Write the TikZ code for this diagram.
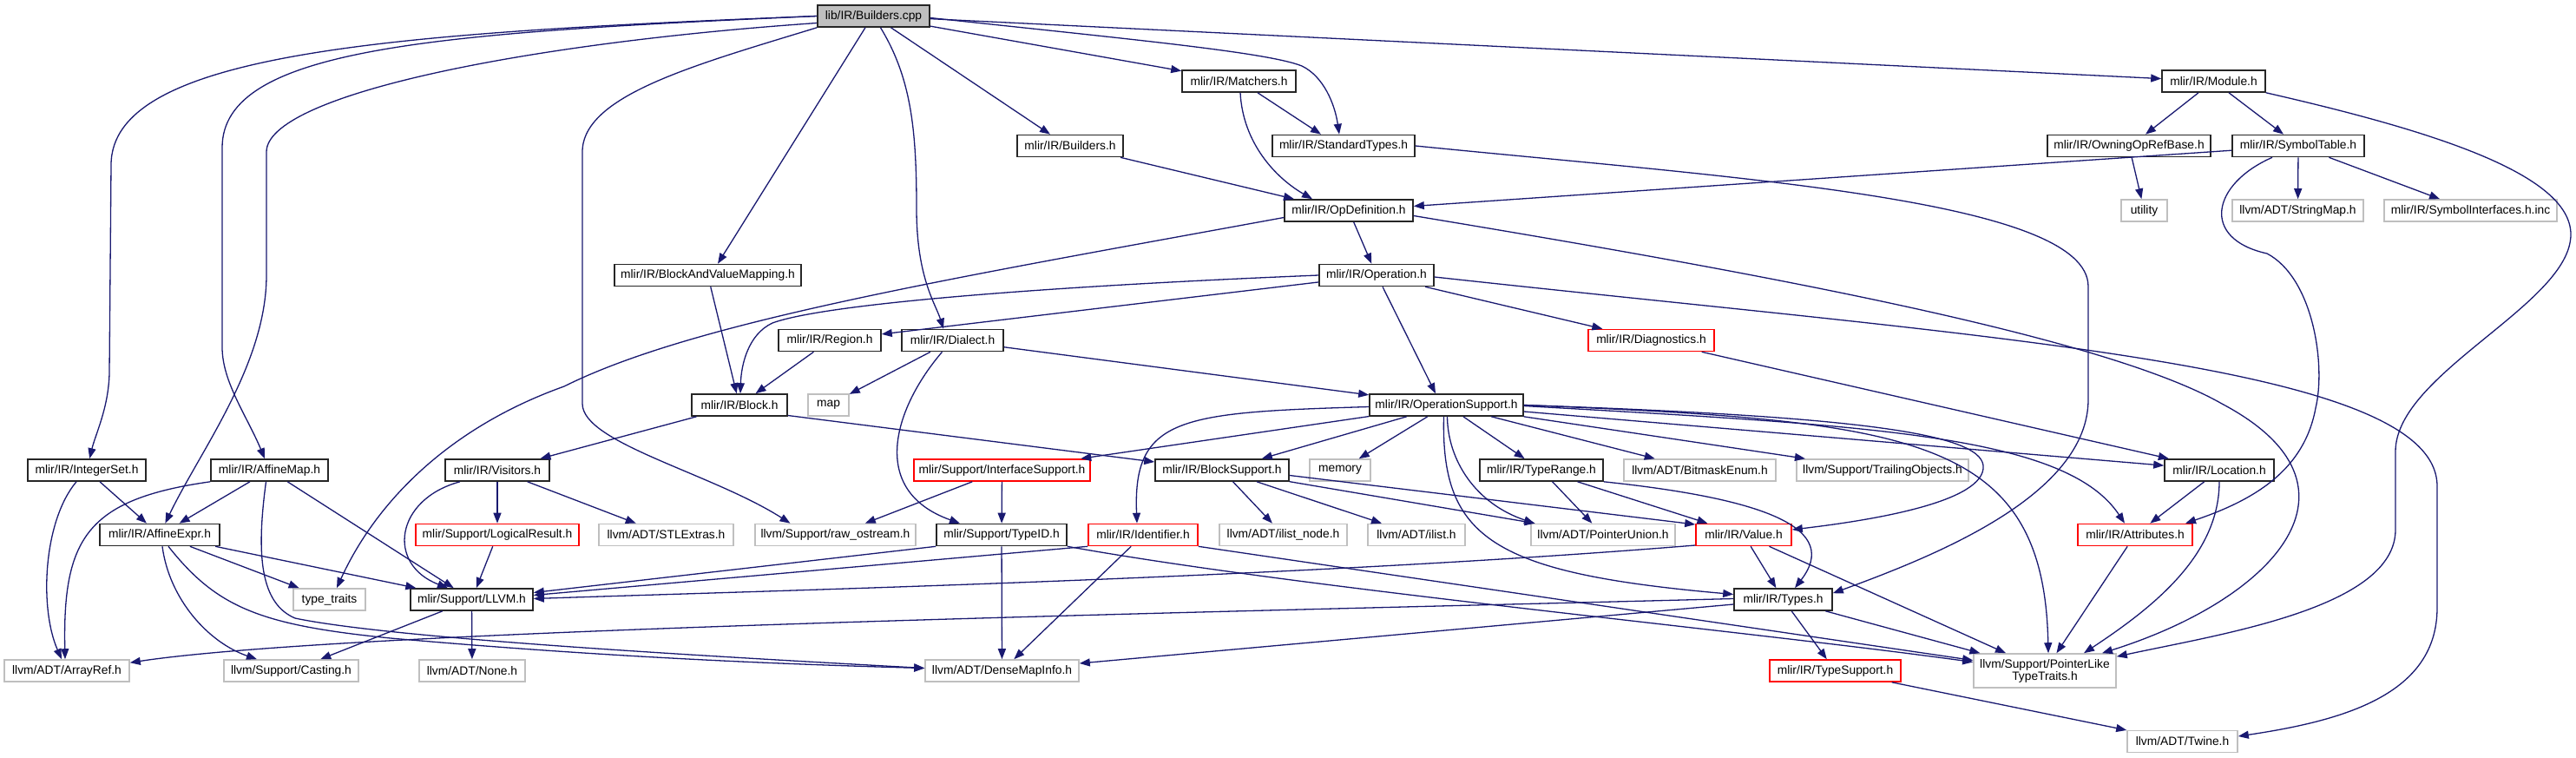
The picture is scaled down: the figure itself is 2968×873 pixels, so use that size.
\documentclass[tikz,border=0pt]{standalone}
\usepackage{fontspec}
\setmainfont{Liberation Sans}
\usetikzlibrary{arrows.meta}
\definecolor{edgeblue}{HTML}{191970}
\definecolor{extgray}{HTML}{BFBFBF}
\definecolor{truncred}{HTML}{FF0000}
\tikzset{
 nd/.style={rectangle, draw=black!85, line width=0.8pt, inner sep=0pt, minimum height=12.5pt, font=\fontsize{6.9}{8}\selectfont, text=black},
 ext/.style={nd, draw=extgray},
 trunc/.style={nd, draw=truncred},
 wd/.style={minimum width=#1*0.5pt},
 dep/.style={draw=edgeblue, line width=0.65pt, -{Triangle[length=6pt,width=4.5pt]}},
}
\begin{document}
\begin{tikzpicture}[x=0.5pt,y=-0.5pt]
\useasboundingbox (0,0) rectangle (2968,873);
% nodes
\node[nd,fill=extgray,wd=129] (cpp) at (1006.5,18.5) {lib/IR/Builders.cpp};
\node[nd,wd=131] (matchers) at (1427.5,93.5) {mlir/IR/Matchers.h};
\node[nd,wd=119] (module) at (2550.5,93.5) {mlir/IR/Module.h};
\node[nd,wd=122] (buildersh) at (1233,168) {mlir/IR/Builders.h};
\node[nd,wd=164] (stdtypes) at (1548,168) {mlir/IR/StandardTypes.h};
\node[nd,wd=188] (owning) at (2453,168) {mlir/IR/OwningOpRefBase.h};
\node[nd,wd=152] (symtab) at (2648,168) {mlir/IR/SymbolTable.h};
\node[nd,wd=148] (opdef) at (1554,242.5) {mlir/IR/OpDefinition.h};
\node[ext,wd=53] (utility) at (2470.5,242.5) {utility};
\node[ext,wd=151] (stringmap) at (2647.5,242.5) {llvm/ADT/StringMap.h};
\node[ext,wd=199] (symif) at (2846.5,242.5) {mlir/IR/SymbolInterfaces.h.inc};
\node[nd,wd=215] (bavm) at (815.5,317) {mlir/IR/BlockAndValueMapping.h};
\node[nd,wd=132] (operation) at (1586,317) {mlir/IR/Operation.h};
\node[nd,wd=118] (region) at (956,392) {mlir/IR/Region.h};
\node[nd,wd=117] (dialect) at (1097.5,392) {mlir/IR/Dialect.h};
\node[trunc,wd=145] (diag) at (1902.5,392) {mlir/IR/Diagnostics.h};
\node[nd,wd=110] (block) at (852,466.5) {mlir/IR/Block.h};
\node[ext,wd=47] (map) at (954.5,466.5) {map};
\node[nd,wd=177] (opsupport) at (1666.5,466.5) {mlir/IR/OperationSupport.h};
\node[nd,wd=136] (intset) at (100,541.5) {mlir/IR/IntegerSet.h};
\node[nd,wd=135] (affmap) at (310.5,541.5) {mlir/IR/AffineMap.h};
\node[nd,wd=120] (visitors) at (573,541.5) {mlir/IR/Visitors.h};
\node[trunc,wd=203] (ifsupport) at (1154.5,541.5) {mlir/Support/InterfaceSupport.h};
\node[nd,wd=154] (blocksupport) at (1408,541.5) {mlir/IR/BlockSupport.h};
\node[ext,wd=70] (memory) at (1544,541.5) {memory};
\node[nd,wd=142] (typerange) at (1776,541.5) {mlir/IR/TypeRange.h};
\node[ext,wd=175] (bitmask) at (1958.5,541.5) {llvm/ADT/BitmaskEnum.h};
\node[ext,wd=198] (trailing) at (2169,541.5) {llvm/Support/TrailingObjects.h};
\node[nd,wd=126] (location) at (2557,541.5) {mlir/IR/Location.h};
\node[nd,wd=138] (affexpr) at (184,616) {mlir/IR/AffineExpr.h};
\node[trunc,wd=188] (logical) at (573,616) {mlir/Support/LogicalResult.h};
\node[ext,wd=155] (stlextras) at (767.5,616) {llvm/ADT/STLExtras.h};
\node[ext,wd=185] (rawostream) at (962.5,616) {llvm/Support/raw\_ostream.h};
\node[nd,wd=150] (typeid) at (1154,616) {mlir/Support/TypeID.h};
\node[trunc,wd=126] (identifier) at (1317,616) {mlir/IR/Identifier.h};
\node[ext,wd=147] (ilistnode) at (1478.5,616) {llvm/ADT/ilist\_node.h};
\node[ext,wd=112] (ilist) at (1632,616) {llvm/ADT/ilist.h};
\node[ext,wd=166] (ptrunion) at (1847,616) {llvm/ADT/PointerUnion.h};
\node[trunc,wd=110] (value) at (2009,616) {mlir/IR/Value.h};
\node[trunc,wd=132] (attributes) at (2460,616) {mlir/IR/Attributes.h};
\node[ext,wd=83] (typetraits) at (379.5,690.5) {type\_traits};
\node[nd,wd=141] (llvmh) at (543.5,690.5) {mlir/Support/LLVM.h};
\node[nd,wd=113] (types) at (2054.5,690.5) {mlir/IR/Types.h};
\node[ext,wd=144] (arrayref) at (77,772.5) {llvm/ADT/ArrayRef.h};
\node[ext,wd=155] (casting) at (335.5,772.5) {llvm/Support/Casting.h};
\node[ext,wd=122] (none) at (544,772.5) {llvm/ADT/None.h};
\node[ext,wd=177] (densemap) at (1154.5,772.5) {llvm/ADT/DenseMapInfo.h};
\node[trunc,wd=151] (typesupport) at (2114.5,772.5) {mlir/IR/TypeSupport.h};
\node[ext,wd=164,minimum height=19.5pt,align=center,font=\fontsize{6.9}{7}\selectfont] (ptrlike) at (2356,772.5) {llvm/Support/PointerLike\\TypeTraits.h};
\node[ext,wd=127] (twine) at (2514.5,854) {llvm/ADT/Twine.h};
% edges from Builders.cpp
\draw[dep] (cpp.west) .. controls (450,38) and (128,60) .. (128,190) -- (126,430) .. controls (125,470) and (110,500) .. (intset);
\draw[dep] (cpp.west) .. controls (500,38) and (256,55) .. (256,170) -- (256,400) .. controls (256,440) and (285,480) .. (affmap);
\draw[dep] ([yshift=-4pt]cpp.west) .. controls (600,50) and (307,110) .. (307,175) -- (307,317) .. controls (307,420) and (230,520) .. (affexpr);
\draw[dep] (cpp.south west) .. controls (800,75) and (671,110) .. (671,175) -- (671,465) .. controls (671,510) and (820,545) .. ([xshift=-26pt]rawostream.north);
\draw[dep] ([xshift=-4.75pt]cpp.south) -- ([xshift=5.75pt]bavm.north);
\draw[dep] ([xshift=4pt]cpp.south) .. controls (1050,90) and (1056,150) .. (1056,240) .. controls (1056,320) and (1078,350) .. ([xshift=-5.25pt]dialect.north);
\draw[dep] ([xshift=10pt]cpp.south) -- ([xshift=-11.5pt]buildersh.north);
\draw[dep] (cpp) -- (matchers);
\draw[dep] ([yshift=-1pt]cpp.east) .. controls (1300,45) and (1460,60) .. (1500,76) .. controls (1525,88) and (1538,120) .. ([xshift=-2.5pt]stdtypes.north);
\draw[dep] (cpp) -- (module);
% Matchers, Builders.h, StandardTypes
\draw[dep] ([xshift=0.75pt]matchers.south) .. controls (1432,165) and (1470,205) .. ([xshift=-21pt]opdef.north);
\draw[dep] ([xshift=10.75pt]matchers.south) -- ([xshift=-13pt]stdtypes.north);
\draw[dep] ([xshift=29pt]buildersh.south) -- ([xshift=-31.5pt]opdef.north);
\draw[dep] (stdtypes.east) .. controls (2000,205) and (2406,230) .. (2406,330) -- (2406,460) .. controls (2406,570) and (2230,640) .. ([yshift=-3pt]types.north east);
% Module
\draw[dep] ([xshift=-8.75pt]module.south) -- ([xshift=9.5pt]owning.north);
\draw[dep] ([xshift=8.75pt]module.south) -- ([xshift=-8.5pt]symtab.north);
\draw[dep] (module.south east) .. controls (2800,150) and (2962,200) .. (2962,270) .. controls (2962,350) and (2760,430) .. (2760,520) -- (2760,610) .. controls (2760,700) and (2560,730) .. ([yshift=-2pt]ptrlike.north east);
% SymbolTable, OwningOpRefBase
\draw[dep] (symtab) -- (opdef);
\draw[dep] (symtab) -- (stringmap);
\draw[dep] (symtab) -- (symif);
\draw[dep] ([xshift=-15pt]symtab.south) .. controls (2548,212) and (2535,275) .. (2612,292) .. controls (2665,320) and (2680,420) .. (2668,470) .. controls (2655,540) and (2600,575) .. ([xshift=29pt]attributes.north);
\draw[dep] (owning) -- (utility);
% OpDefinition
\draw[dep] (opdef) -- (operation);
\draw[dep] ([yshift=-4pt]opdef.west) .. controls (1100,320) and (800,370) .. (650,445) .. controls (510,495) and (430,585) .. ([xshift=4.25pt]typetraits.north);
\draw[dep] ([yshift=-3pt]opdef.east) .. controls (2000,310) and (2420,385) .. (2560,465) .. controls (2740,560) and (2620,690) .. ([xshift=33pt]ptrlike.north);
% Operation
\draw[dep] (operation) -- (region);
\draw[dep] (operation.west) .. controls (1200,330) and (950,350) .. (890,372) .. controls (862,385) and (854,420) .. ([xshift=0.5pt]block.north);
\draw[dep] ([xshift=3.5pt]operation.south) -- ([xshift=-6.25pt]opsupport.north);
\draw[dep] (operation) -- (diag);
\draw[dep] ([yshift=-1pt]operation.east) .. controls (2300,390) and (2808,420) .. (2808,560) -- (2808,700) .. controls (2808,800) and (2700,830) .. ([yshift=3pt]twine.east);
% Diagnostics, Region, BlockAndValueMapping, Dialect
\draw[dep] (diag) -- (location);
\draw[dep] (region) -- (block);
\draw[dep] (bavm) -- (block);
\draw[dep] (dialect) -- (map);
\draw[dep] ([xshift=-6pt]dialect.south) .. controls (1030,470) and (1000,565) .. ([xshift=-24pt]typeid.north);
\draw[dep] (dialect) -- (opsupport);
% Block
\draw[dep] (block) -- (visitors);
\draw[dep] ([yshift=-6pt]block.east) -- ([yshift=4.75pt]blocksupport.west);
% OperationSupport
\draw[dep] (opsupport) -- (memory);
\draw[dep] (opsupport) -- (typerange);
\draw[dep] (opsupport) -- (bitmask);
\draw[dep] (opsupport) -- (trailing);
\draw[dep] ([xshift=0.5pt]opsupport.south) .. controls (1668,530) and (1700,580) .. ([xshift=-39.5pt]ptrunion.north);
\draw[dep] ([xshift=-1.5pt]opsupport.south) .. controls (1660,620) and (1720,660) .. ([yshift=3pt]types.west);
\draw[dep] (opsupport) -- (location);
\draw[dep] ([yshift=-0.5pt]opsupport.east) .. controls (2150,490) and (2380,500) .. ([xshift=-6pt]attributes.north);
\draw[dep] (opsupport.east) .. controls (2200,485) and (2355,500) .. ([xshift=2pt]ptrlike.north);
\draw[dep] (opsupport.east) .. controls (2150,480) and (2290,500) .. (2285,540) .. controls (2280,580) and (2150,600) .. ([yshift=3pt]value.east);
\draw[dep] ([yshift=-1pt]opsupport.west) .. controls (1360,475) and (1305,480) .. ([xshift=-3.5pt]identifier.north);
\draw[dep] (opsupport) -- (ifsupport);
\draw[dep] (opsupport) -- (blocksupport);
% BlockSupport
\draw[dep] (blocksupport) -- (ilistnode);
\draw[dep] (blocksupport) -- (ilist);
\draw[dep] (blocksupport) -- (ptrunion);
\draw[dep] ([yshift=-3pt]blocksupport.east) -- ([yshift=6pt]value.west);
% TypeRange
\draw[dep] (typerange) -- (ptrunion);
\draw[dep] (typerange) -- (value);
\draw[dep] (typerange.south east) .. controls (2040,575) and (2120,610) .. ([xshift=6.75pt]types.north);
% Value
\draw[dep] (value) -- (types);
\draw[dep] ([yshift=-6pt]value.west) .. controls (1500,665) and (900,680) .. ([yshift=0.5pt]llvmh.east);
\draw[dep] (value) -- (ptrlike);
% Types
\draw[dep] (types) -- (typesupport);
\draw[dep] (types) -- (ptrlike);
\draw[dep] ([yshift=0.5pt]types.west) .. controls (1400,705) and (400,725) .. ([yshift=-2pt]arrayref.north east);
\draw[dep] ([yshift=-2.75pt]types.west) -- ([yshift=4.25pt]densemap.east);
\draw[dep] (typesupport) -- (twine);
% Identifier
\draw[dep] (identifier.south west) -- ([yshift=2.5pt]llvmh.east);
\draw[dep] (identifier) -- (densemap);
\draw[dep] (identifier.south east) -- ([yshift=6pt]ptrlike.west);
% TypeID
\draw[dep] (typeid.south west) -- ([yshift=4pt]llvmh.east);
\draw[dep] (typeid) -- (densemap);
\draw[dep] (typeid.south east) .. controls (1500,678) and (2000,725) .. ([yshift=5pt]ptrlike.west);
% InterfaceSupport
\draw[dep] (ifsupport) -- (typeid);
\draw[dep] (ifsupport) -- (rawostream);
% Visitors, LogicalResult
\draw[dep] ([xshift=-21.5pt]visitors.south) .. controls (455,575) and (445,650) .. ([xshift=-13.75pt]llvmh.north);
\draw[dep] (visitors) -- (logical);
\draw[dep] (visitors) -- (stlextras);
\draw[dep] (logical) -- (llvmh);
% IntegerSet
\draw[dep] ([xshift=-6pt]intset.south) .. controls (50,600) and (45,700) .. ([xshift=-3pt]arrayref.north);
\draw[dep] (intset) -- (affexpr);
% AffineMap
\draw[dep] (affmap) -- (affexpr);
\draw[dep] (affmap.south west) .. controls (100,575) and (72,620) .. ([xshift=-1pt]arrayref.north);
\draw[dep] (affmap) -- (llvmh);
\draw[dep] ([xshift=-2pt]affmap.south) .. controls (295,640) and (300,695) .. (340,712) .. controls (450,735) and (800,755) .. ([yshift=1.5pt]densemap.west);
% AffineExpr
\draw[dep] (affexpr) -- (typetraits);
\draw[dep] (affexpr) -- (llvmh);
\draw[dep] ([xshift=1.5pt]affexpr.south) .. controls (195,690) and (240,740) .. ([xshift=-19.75pt]casting.north);
\draw[dep] ([xshift=5pt]affexpr.south) .. controls (250,700) and (300,720) .. (450,735) .. controls (700,757) and (900,765) .. ([yshift=1.5pt]densemap.west);
% LLVM.h
\draw[dep] (llvmh) -- (casting);
\draw[dep] (llvmh) -- (none);
% Location, Attributes
\draw[dep] (location) -- (attributes);
\draw[dep] (location.south) .. controls (2557,640) and (2480,700) .. ([xshift=22.5pt]ptrlike.north);
\draw[dep] (attributes) -- (ptrlike);
\end{tikzpicture}
\end{document}
